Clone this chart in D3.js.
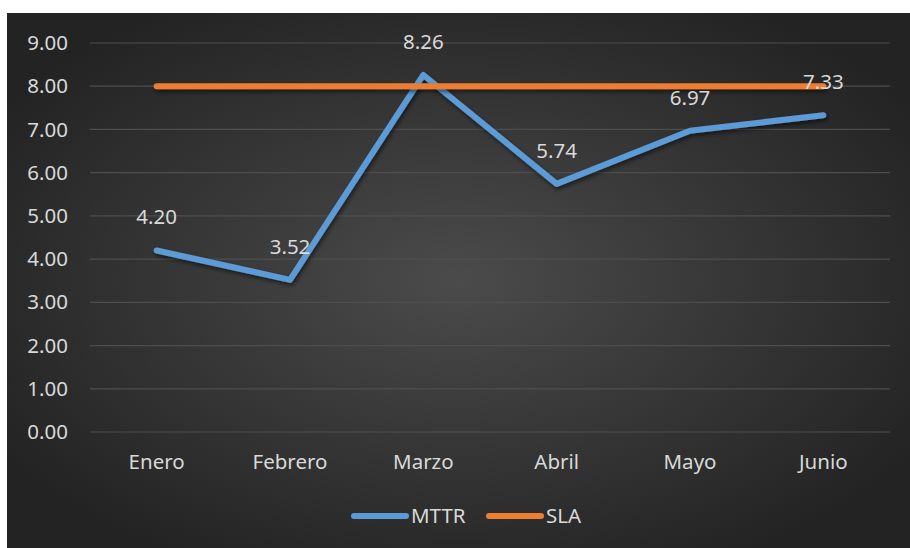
<!DOCTYPE html>
<html><head><meta charset="utf-8">
<script src="https://cdn.jsdelivr.net/npm/d3@7"></script>
<style>html,body{margin:0;padding:0;background:#fff;}svg{display:block;}</style>
</head><body>
<script>
const categories = ["Enero","Febrero","Marzo","Abril","Mayo","Junio"];
const mttr = [4.20, 3.52, 8.26, 5.74, 6.97, 7.33];
const sla = [8, 8, 8, 8, 8, 8];
const yTicks = [0,1,2,3,4,5,6,7,8,9];

const W = 910, H = 548;
const svg = d3.select("body").append("svg").attr("width", W).attr("height", H);
const defs = svg.append("defs");
const rg = defs.append("radialGradient").attr("id","bg").attr("cx","50%").attr("cy","50%").attr("r","60%");
rg.append("stop").attr("offset","0%").attr("stop-color","#4b4b4b");
rg.append("stop").attr("offset","100%").attr("stop-color","#232323");
const f = defs.append("filter").attr("id","sh").attr("filterUnits","userSpaceOnUse")
  .attr("x",0).attr("y",0).attr("width",W).attr("height",H);
f.append("feDropShadow").attr("dx",1.5).attr("dy",2.5).attr("stdDeviation",2).attr("flood-color","#000").attr("flood-opacity",0.55);

svg.append("rect").attr("x",7).attr("y",13).attr("width",W-7).attr("height",H-13).attr("fill","url(#bg)");

const x = d3.scaleBand().domain(categories).range([90, 890]);
const y = d3.scaleLinear().domain([0, 9]).range([432, 43]);
const cx = d => x(d) + x.bandwidth()/2;
const font = "'Noto Sans', 'Open Sans', sans-serif";
const txt = "#d9d9d9";
const fs = "20.5px";

// gridlines
svg.append("g").selectAll("line").data(yTicks).join("line")
  .attr("x1",90).attr("x2",890).attr("y1",d=>y(d)).attr("y2",d=>y(d))
  .attr("stroke","#4e4e4e").attr("stroke-width",1.2);

// y axis
const ya = svg.append("g").attr("transform","translate(90,0)")
  .call(d3.axisLeft(y).tickValues(yTicks).tickFormat(d3.format(".2f")).tickSize(0).tickPadding(22));
ya.select(".domain").remove();
ya.selectAll("text").attr("fill",txt).style("font-family",font).style("font-size",fs);

// x axis
const xa = svg.append("g").attr("transform","translate(0,432)")
  .call(d3.axisBottom(x).tickSize(0).tickPadding(22));
xa.select(".domain").remove();
xa.selectAll("text").attr("fill",txt).style("font-family",font).style("font-size",fs);

const line = d3.line().x((d,i)=>cx(categories[i])).y(d=>y(d));

svg.append("path").datum(mttr).attr("d",line).attr("fill","none")
  .attr("stroke","#5b9bd5").attr("stroke-width",6).attr("stroke-linecap","round").attr("stroke-linejoin","round")
  .attr("filter","url(#sh)");
svg.append("path").datum(sla).attr("d",line).attr("fill","none")
  .attr("stroke","#ed7d31").attr("stroke-width",6).attr("stroke-linecap","round").attr("stroke-linejoin","round")
  .attr("filter","url(#sh)");

// data labels
svg.append("g").selectAll("text").data(mttr).join("text")
  .attr("x",(d,i)=>cx(categories[i])).attr("y",d=>y(d)-26)
  .attr("text-anchor","middle").attr("fill",txt).style("font-family",font).style("font-size",fs)
  .text(d=>d3.format(".2f")(d));

// legend
const leg = [{name:"MTTR", c:"#5b9bd5", x:354},{name:"SLA", c:"#ed7d31", x:489}];
const lg = svg.append("g").selectAll("g").data(leg).join("g");
lg.append("line").attr("x1",d=>d.x).attr("x2",d=>d.x+52).attr("y1",516).attr("y2",516)
  .attr("stroke",d=>d.c).attr("stroke-width",6).attr("stroke-linecap","round");
lg.append("text").attr("x",d=>d.x+57).attr("y",523).attr("fill",txt)
  .style("font-family",font).style("font-size",fs).text(d=>d.name);
</script>
</body></html>
